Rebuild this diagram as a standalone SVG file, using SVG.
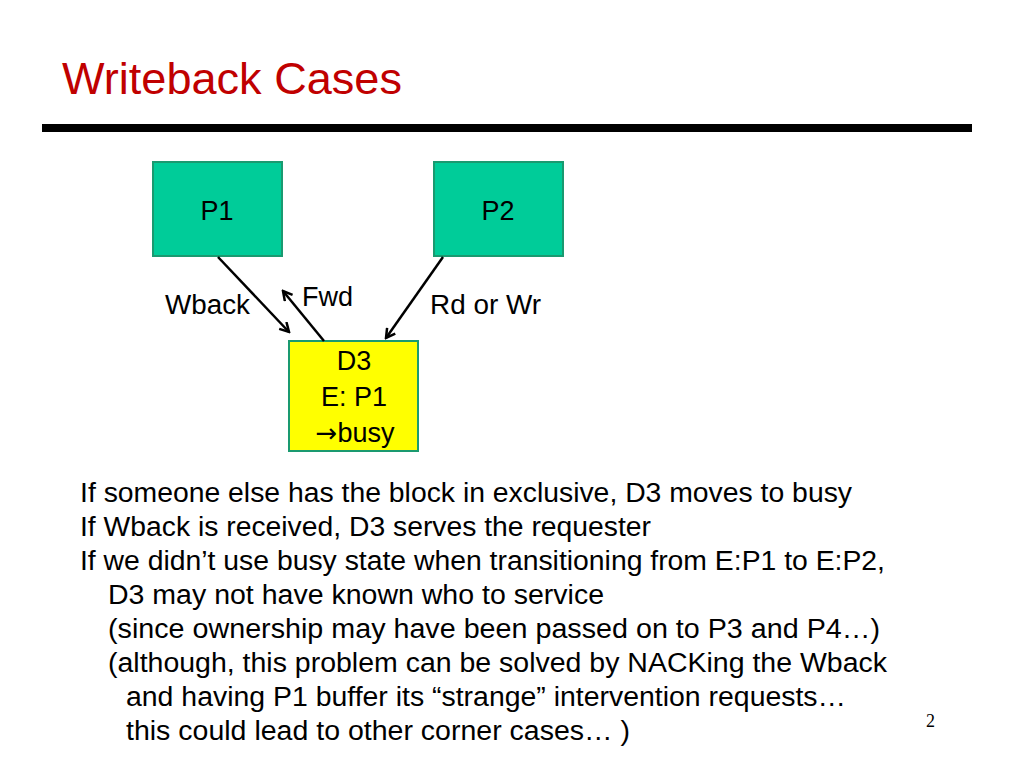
<svg xmlns="http://www.w3.org/2000/svg" width="1024" height="768" viewBox="0 0 1024 768">
<style>
.t{font-family:"Liberation Sans",Arial,sans-serif;fill:#000}
.lbl{font-size:27px}
.body{font-size:27px}
.proc{fill:#00CC99;stroke:#1A9A70;stroke-width:2}
.dir{fill:#FFFF00;stroke:#1A9A70;stroke-width:2}
.edge{stroke:#000;stroke-width:2.5;fill:none;marker-end:url(#ah)}
</style>
<defs>
<marker id="ah" markerWidth="12" markerHeight="12" viewBox="0 0 12 12" refX="10" refY="6" orient="auto" markerUnits="userSpaceOnUse">
<path d="M1,1 L10,6 L1,11" fill="none" stroke="#000" stroke-width="2.5"/>
</marker>
</defs>
<rect width="1024" height="768" fill="#fff"/>
<text x="62" y="94" font-family="Liberation Sans,Arial,sans-serif" font-size="44" fill="#C00000" textLength="340" lengthAdjust="spacingAndGlyphs">Writeback Cases</text>
<rect x="42" y="124" width="930" height="8" fill="#000"/>
<g id="P1"><rect class="proc" x="153" y="162" width="129" height="94"/><text class="t lbl" x="217" y="220" text-anchor="middle">P1</text></g>
<g id="P2"><rect class="proc" x="434" y="162" width="129" height="94"/><text class="t lbl" x="498" y="220" text-anchor="middle">P2</text></g>
<g id="D3"><rect class="dir" x="289" y="341" width="129" height="110"/>
<text class="t lbl" x="354" y="370" text-anchor="middle">D3</text>
<text class="t lbl" x="354" y="406" text-anchor="middle">E: P1</text>
<text class="t lbl" x="355" y="442" text-anchor="middle"><tspan font-family="DejaVu Sans,sans-serif" font-size="26">→</tspan>busy</text></g>
<g id="connectors">
<line class="edge" x1="218" y1="257" x2="289" y2="332"/>
<line class="edge" x1="324" y1="341" x2="283" y2="291"/>
<line class="edge" x1="443" y1="257" x2="386" y2="338"/>
<text class="t lbl" x="165" y="314" textLength="85" lengthAdjust="spacingAndGlyphs">Wback</text>
<text class="t lbl" x="302" y="306">Fwd</text>
<text class="t lbl" x="430" y="314" textLength="111" lengthAdjust="spacingAndGlyphs">Rd or Wr</text>
</g>
<g id="notes" class="t body">
<text x="80" y="502" textLength="772" lengthAdjust="spacingAndGlyphs">If someone else has the block in exclusive, D3 moves to busy</text>
<text x="80" y="536" textLength="571" lengthAdjust="spacingAndGlyphs">If Wback is received, D3 serves the requester</text>
<text x="80" y="570" textLength="805" lengthAdjust="spacingAndGlyphs">If we didn’t use busy state when transitioning from E:P1 to E:P2,</text>
<text x="108" y="604" textLength="496" lengthAdjust="spacingAndGlyphs">D3 may not have known who to service</text>
<text x="108" y="638" textLength="772" lengthAdjust="spacingAndGlyphs">(since ownership may have been passed on to P3 and P4…)</text>
<text x="108" y="672" textLength="779" lengthAdjust="spacingAndGlyphs">(although, this problem can be solved by NACKing the Wback</text>
<text x="126" y="706" textLength="720" lengthAdjust="spacingAndGlyphs">and having P1 buffer its “strange” intervention requests…</text>
<text x="126" y="740" textLength="504" lengthAdjust="spacingAndGlyphs">this could lead to other corner cases… )</text>
</g>
<text x="926" y="727" font-family="Liberation Serif,Times New Roman,serif" font-size="18" fill="#000">2</text>
</svg>
